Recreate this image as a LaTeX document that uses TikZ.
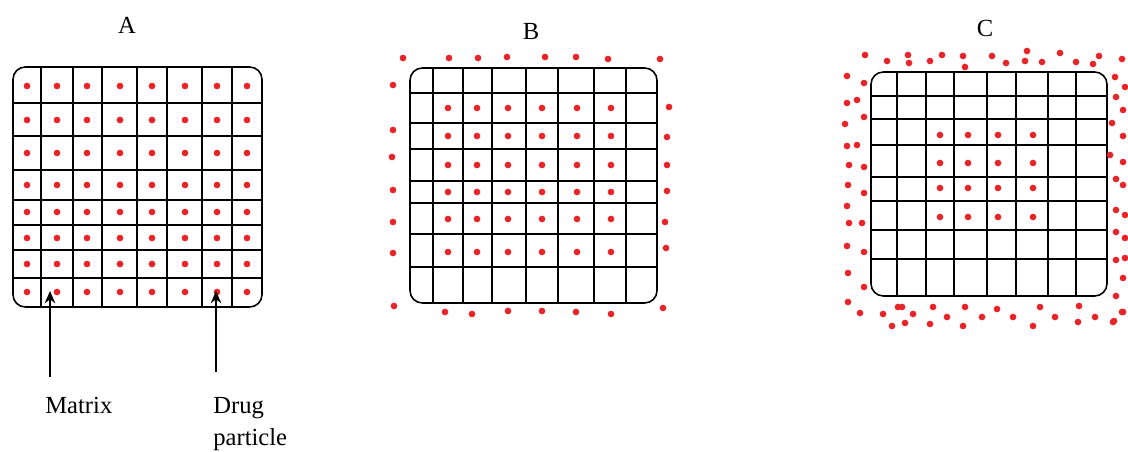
\documentclass[tikz,border=0pt]{standalone}
\usepackage{fontspec}
\setmainfont{Liberation Serif}
\usetikzlibrary{arrows.meta}
\definecolor{dotred}{RGB}{232,36,40}

\tikzset{
  gridline/.style={line width=0.9pt},
  border/.style={gridline,rounded corners=7pt},
  drug/.style={fill=dotred},
  lbl/.style={font=\fontsize{14}{18}\selectfont,inner sep=0pt},
}

\begin{document}
\begin{tikzpicture}[x=0.02cm,y=-0.02cm,>={Stealth[length=7pt,width=6pt]}]
  \useasboundingbox (0,0) rectangle (1128,452);

  % Panel titles
  \node[lbl] (tA) at (127,25) {A};
  \node[lbl] (tB) at (531,31) {B};
  \node[lbl] (tC) at (985,28) {C};

  % A: drug spread through the whole matrix
  \draw[border] (13,67) rectangle (262,307);
  \foreach \x in {41,73,102,137,167,202,232} \draw[gridline] (\x,67) -- (\x,307);
  \foreach \y in {103,136,170,200,225,250,278} \draw[gridline] (13,\y) -- (262,\y);
  \foreach \x in {27,57,87,120,152,185,217,247}
    \foreach \y in {86,120,153,185,212,238,264,292}
      \fill[drug] (\x,\y) circle[radius=1.9pt];

  % Labels of A
  \node[lbl,anchor=north west] (matrixlbl) at (45,397) {Matrix};
  \node[lbl,anchor=north west,align=left] (druglbl) at (213,397) {Drug\\particle};
  \coordinate (mtail) at (50,377);
  \coordinate (mtip) at (50,291);
  \coordinate (dtail) at (216,372);
  \coordinate (dtip) at (216,291);
  \draw[->,line width=0.9pt] (mtail) -- (mtip);
  \draw[->,line width=0.9pt] (dtail) -- (dtip);

  % B: outer layer emptied
  \draw[border] (410,68) rectangle (657,303);
  \foreach \x in {433,463,492,526,558,594,626} \draw[gridline] (\x,68) -- (\x,303);
  \foreach \y in {93,123,149,181,203,234,267} \draw[gridline] (410,\y) -- (657,\y);
  \foreach \x in {448,477,508,542,577,611}
    \foreach \y in {108,136,165,192,219,252}
      \fill[drug] (\x,\y) circle[radius=1.9pt];
  \foreach \p in {(403,58),(449,58),(478,58),(507,57),(545,57),(576,57),(608,59),(660,59),
                  (393,85),(393,130),(392,157),(393,190),(393,222),(393,253),(394,306),
                  (669,107),(667,137),(667,165),(667,191),(665,222),(666,248),(663,308),
                  (445,312),(472,314),(508,311),(542,311),(576,312),(611,314)}
    \fill[drug] \p circle[radius=1.9pt];

  % C: drug left only in the core
  \draw[border] (871,72) rectangle (1107,296);
  \foreach \x in {897,926,954,987,1016,1048,1076} \draw[gridline] (\x,72) -- (\x,296);
  \foreach \y in {96,119,145,177,201,230,259} \draw[gridline] (871,\y) -- (1107,\y);
  \foreach \x in {940,968,998,1033}
    \foreach \y in {135,163,188,217}
      \fill[drug] (\x,\y) circle[radius=1.9pt];
  \foreach \p in {(865,55),(887,61),(908,55),(909,63),(930,61),(942,55),(963,56),(965,67),
                  (992,56),(1006,63),(1025,61),(1027,51),(1042,62),(1060,53),(1076,62),
                  (1093,64),(1099,56),(1122,59),
                  (847,76),(864,83),(847,103),(857,100),(864,117),(845,124),(847,146),
                  (857,145),(849,165),(864,167),(848,185),(864,193),(847,206),(849,223),
                  (862,223),(847,246),(864,252),(848,273),(864,287),(848,302),
                  (1115,77),(1125,87),(1116,97),(1123,110),(1112,123),(1123,136),(1110,155),
                  (1123,162),(1116,179),(1123,185),(1116,210),(1125,215),(1116,232),
                  (1125,238),(1116,260),(1125,258),(1123,278),(1116,296),(1123,312),(1114,321),
                  (860,313),(883,314),(898,307),(902,307),(913,314),(933,307),(947,317),
                  (965,307),(982,317),(997,309),(1013,317),(1040,307),(1055,317),(1079,306),
                  (1095,317),(1122,312),(892,326),(905,323),(930,324),(963,326),(1033,326),
                  (1078,322),(1113,322)}
    \fill[drug] \p circle[radius=1.9pt];
\end{tikzpicture}
\end{document}
